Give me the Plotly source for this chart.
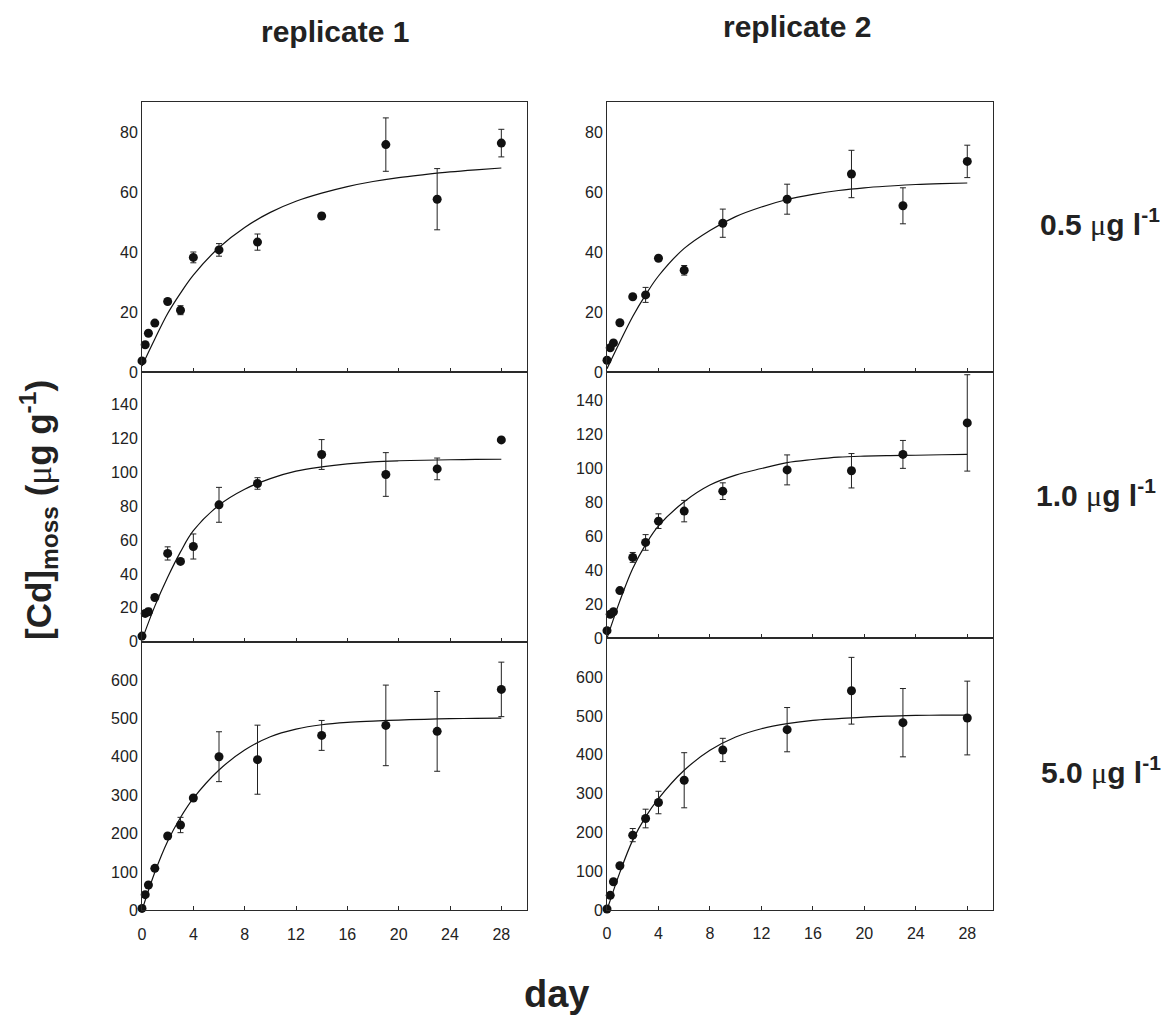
import plotly.graph_objects as go

# ---------------- data ----------------
days = [0, 0.25, 0.5, 1, 2, 3, 4, 6, 9, 14, 19, 23, 28]
fit_days = [0, 1, 2, 3, 4, 6, 8, 10, 12, 14, 16, 18, 20, 22, 24, 26, 28]

r1_05 = [3.7, 9.1, 12.9, 16.3, 23.5, 20.6, 38.2, 40.7, 43.3, 52.0, 75.8, 57.6, 76.3]
r1_05_err = [0, 0, 0, 0, 0, 1.5, 1.8, 2.1, 2.7, 1.0, 8.9, 10.2, 4.6]
r1_05_fit = [2, 11, 19.5, 26.3, 32.3, 41.5, 48.2, 53.2, 56.9, 59.6, 61.8, 63.5, 64.8, 65.8, 66.7, 67.4, 68.0]

r2_05 = [3.9, 8.1, 9.7, 16.4, 25.1, 25.7, 37.9, 33.9, 49.6, 57.6, 66.0, 55.4, 70.2]
r2_05_err = [0, 0, 0, 0, 0, 2.5, 0, 1.6, 4.7, 5.0, 7.9, 6.0, 5.4]
r2_05_fit = [1.1, 10, 18.5, 25.7, 32, 41.2, 47.2, 51.8, 55.0, 57.5, 59.2, 60.5, 61.4, 62.0, 62.5, 62.8, 63.0]

r1_10 = [3.3, 16.7, 17.7, 26.1, 52.1, 47.4, 56.2, 80.8, 93.4, 110.5, 98.7, 102.0, 119.1]
r1_10_err = [0, 1.5, 2, 0, 3.9, 0, 7.4, 10.3, 3.4, 8.8, 12.9, 6.4, 1]
r1_10_fit = [1, 21, 38, 53, 65.5, 80.6, 90, 96.3, 100.7, 103.2, 105, 106.2, 106.8, 107.1, 107.4, 107.6, 107.7]

r2_10 = [4.5, 14.1, 15.6, 28.0, 47.5, 56.3, 68.8, 74.7, 86.4, 98.9, 98.4, 108.0, 126.5]
r2_10_err = [0, 0, 0, 0, 2.9, 4.6, 4.3, 6.3, 4.9, 8.8, 10.1, 8.2, 28.3]
r2_10_fit = [0, 22, 41, 55, 66, 80.2, 90, 95.8, 99.7, 103.2, 105, 106.4, 107, 107.3, 107.5, 107.8, 108]

r1_50 = [5, 40.8, 66, 109.4, 193.6, 222.3, 292.6, 400.3, 392.5, 455.8, 481.9, 466.3, 575.7]
r1_50_err = [0, 0, 0, 0, 5, 20, 5, 65, 90, 39, 105, 104, 71]
r1_50_fit = [0, 99, 180, 242, 291.7, 365.6, 417.6, 452.4, 472, 483.5, 489.7, 493, 495.8, 497.8, 499.3, 500.3, 501]

r2_50 = [2.6, 37.7, 72.9, 114, 192.9, 235.7, 276.9, 334.3, 412.3, 464.6, 564.9, 482.6, 494.6]
r2_50_err = [0, 0, 0, 0, 17, 24, 29, 71, 30, 57, 86, 88, 95]
r2_50_fit = [0, 96.9, 180, 240, 287, 360, 411.4, 445.7, 467, 480, 488.6, 492.9, 497, 499.5, 501.4, 502, 502.3]

x_ticks = [0, 4, 8, 12, 16, 20, 24, 28]
y_ticks = [[0, 20, 40, 60, 80],
           [0, 20, 40, 60, 80, 100, 120, 140],
           [0, 100, 200, 300, 400, 500, 600]]
col_titles = ["replicate 1", "replicate 2"]
row_labels = ["0.5 ", "1.0 ", "5.0 "]

# ---------------- layout geometry ----------------
W, H = 1169, 1016
OFF = 8  # default page body margin
col_px = [(142, 527), (607, 993)]
row_px = {0: [(102, 372), (372, 641.7), (641.7, 910.3)],
          1: [(102, 372), (372, 638.3), (638.3, 910)]}
y_tops = {0: [90, 159.2, 700], 1: [90, 156.4, 700]}

def fx(px):
    return (px - OFF) / W

def fy(py):
    return 1 - (py - OFF) / H

panels = [
    (0, 0, r1_05, r1_05_err, r1_05_fit),
    (0, 1, r2_05, r2_05_err, r2_05_fit),
    (1, 0, r1_10, r1_10_err, r1_10_fit),
    (1, 1, r2_10, r2_10_err, r2_10_fit),
    (2, 0, r1_50, r1_50_err, r1_50_fit),
    (2, 1, r2_50, r2_50_err, r2_50_fit),
]

fig = go.Figure()
line_col = "#2a2a2a"
tick_font = dict(family="Liberation Sans, Arial, sans-serif", size=16, color="#222")

for i, (r, c, vals, errs, fit) in enumerate(panels):
    n = i + 1
    xa = "x" if n == 1 else f"x{n}"
    ya = "y" if n == 1 else f"y{n}"
    fig.add_trace(go.Scatter(
        x=fit_days, y=fit, mode="lines", xaxis=xa, yaxis=ya,
        line=dict(color="#111", width=1.2, shape="spline", smoothing=1.0),
        showlegend=False, hoverinfo="skip"))
    fig.add_trace(go.Scatter(
        x=days, y=vals, mode="markers", xaxis=xa, yaxis=ya,
        marker=dict(color="#111", size=9),
        error_y=dict(type="data", array=errs, visible=True,
                     color="#222", thickness=1, width=3),
        cliponaxis=False, showlegend=False))

    x0, x1 = col_px[c]
    ytop_px, ybot_px = row_px[c][r]
    xkey = "xaxis" if n == 1 else f"xaxis{n}"
    ykey = "yaxis" if n == 1 else f"yaxis{n}"
    fig.layout[xkey] = dict(
        domain=[fx(x0), fx(x1)], anchor=ya, range=[0, 30],
        tickvals=x_ticks, showticklabels=(r == 2),
        ticks="inside", ticklen=4, tickcolor=line_col,
        ticklabelstandoff=9,
        showline=True, mirror=True, linecolor=line_col, linewidth=1,
        showgrid=False, zeroline=False, tickfont=tick_font, automargin=False)
    fig.layout[ykey] = dict(
        domain=[fy(ybot_px), fy(ytop_px)], anchor=xa,
        range=[0, y_tops[c][r]], tickvals=y_ticks[r],
        ticks="",
        showline=True, mirror=True, linecolor=line_col, linewidth=1,
        showgrid=False, zeroline=False, tickfont=tick_font, automargin=False)

bold_font = dict(family="Liberation Sans, Arial, sans-serif", color="#222")

def ann(text, px, py, size, angle=0):
    fig.add_annotation(text=text, xref="paper", yref="paper",
                       x=fx(px), y=fy(py), xanchor="center", yanchor="middle",
                       showarrow=False, textangle=angle,
                       font=dict(size=size, **bold_font))

ann(f"<b>{col_titles[0]}</b>", 335, 32, 30)
ann(f"<b>{col_titles[1]}</b>", 797, 27, 30)
ann("<b>day</b>", 556, 994, 38)
mu = "<span style='font-family:Liberation Serif, Times New Roman, serif;font-weight:normal'>\u03bc</span>"
ann(f"<b>[Cd]<sub>moss</sub> ({mu}g g<sup>-1</sup>)</b>", 38, 510, 35, angle=-90)
ann(f"<b>{row_labels[0]}{mu}g l<sup>-1</sup></b>", 1100, 222, 30)
ann(f"<b>{row_labels[1]}{mu}g l<sup>-1</sup></b>", 1096, 493, 30)
ann(f"<b>{row_labels[2]}{mu}g l<sup>-1</sup></b>", 1101, 770, 30)

fig.update_layout(
    width=W, height=H, template="none",
    margin=dict(l=0, r=0, t=0, b=0),
    paper_bgcolor="white", plot_bgcolor="white",
    font=dict(family="Liberation Sans, Arial, sans-serif", color="#222"),
)

fig.write_html("out.html")
